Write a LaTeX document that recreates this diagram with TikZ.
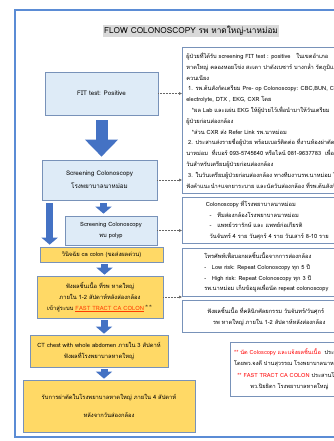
\documentclass[tikz,border=0pt]{standalone}
\usepackage{fontspec}
\setmainfont{Loma}[Script=Thai]
\usepackage{tikz}
\usetikzlibrary{arrows.meta}
\definecolor{framebl}{RGB}{91,140,213}
\definecolor{edgebl}{RGB}{120,146,185}
\definecolor{lightbl}{RGB}{222,235,247}
\definecolor{ylw}{RGB}{255,217,102}
\definecolor{arrbl}{RGB}{68,114,196}
\definecolor{titlegray}{RGB}{217,217,217}
\definecolor{notered}{RGB}{255,0,0}
\definecolor{fastred}{RGB}{255,60,0}

\begin{document}
\begin{tikzpicture}[x=1pt,y=-1pt,
	lbox/.style={draw=edgebl,line width=0.7pt,fill=lightbl,align=center,inner sep=0pt,font=\fontsize{6.3}{13}\selectfont},
	ylbox/.style={lbox,fill=ylw,font=\fontsize{5.8}{11}\selectfont},
	rbox/.style={draw=edgebl,line width=0.7pt,fill=white,anchor=north west,align=left,inner xsep=3pt,inner ysep=0pt,font=\fontsize{5.7}{10.8}\selectfont},
	dotcon/.style={densely dotted,black!60,line width=0.5pt,-{Latex[length=3pt,width=3pt]}},
	bigarr/.style={arrbl,line width=12pt,-{Triangle[length=17pt,width=32pt]}},
	smallarr/.style={arrbl,line width=7pt,-{Triangle[length=7pt,width=16pt]}}]
				\useasboundingbox (0,0) rectangle (333,441);
				\draw[framebl,line width=1.5pt] (15,10) rectangle (360,437);
				\node[fill=titlegray,inner sep=1.5pt,font=\fontsize{8.3}{10}\selectfont] (title) at (191,31) {FLOW COLONOSCOPY รพ หาดใหญ่-นาหม่อม};

				\node[lbox,minimum width=113pt,minimum height=43pt] (fit) at (101.5,93.5) {FIT test: Positive};
				\node[lbox,minimum width=115pt,minimum height=40pt] (scr) at (99.5,180) {Screening Colonoscopy\\โรงพยาบาลนาหม่อม};
				\node[lbox,minimum width=92pt,minimum height=29pt,font=\fontsize{5.8}{11}\selectfont] (polyp) at (111,230.5) {Screening Colonoscopy\\พบ polyp};
				\node[ylbox,minimum width=123pt,minimum height=15pt] (diag) at (101.5,254.5) {วินิจฉัย ca colon (ขอส่งผลด่วน)};
				\node[ylbox,minimum width=126pt,minimum height=42pt] (patho) at (100,297) {ฟังผลชิ้นเนื้อ ที่รพ หาดใหญ่\\ภายใน 1-2 สัปดาห์หลังส่องกล้อง\\เข้าสู่ระบบ {\color{fastred}\underline{FAST TRACT CA COLON}}\,$^{\ast\ast}$};
				\node[ylbox,minimum width=138pt,minimum height=32pt] (ct) at (99,351) {CT chest with whole abdomen ภายใน 3 สัปดาห์\\ฟังผลที่โรงพยาบาลหาดใหญ่};
				\node[ylbox,minimum width=172pt,minimum height=52pt] (op) at (109,406) {รับการผ่าตัดในโรงพยาบาลหาดใหญ่ ภายใน 4 สัปดาห์\\[7pt]หลังจากวันส่องกล้อง};

				\node[rbox,minimum width=168pt,minimum height=146pt] (prep) at (182,47) {ผู้ป่วยที่ได้รับ screening FIT test : positive\quad ในเขตอำเภอ\\
หาดใหญ่ คลองหอยโข่ง สะเดา ปาดังเบซาร์ บางกล่ำ รัตภูมิและ\\
ควนเนียง\\
\ 1. รพ.ต้นสังกัดเตรียม Pre- op Colonoscopy: CBC,BUN, Cr,\\
electrolyte, DTX , EKG, CXR โดย\\
\quad *ผล Lab และแผ่น EKG ให้ผู้ป่วยไว้เพื่อนำมาให้วันเตรียม\\
ผู้ป่วยก่อนส่องกล้อง\\
\quad *ส่วน CXR ส่ง Refer Link รพ.นาหม่อม\\
\ 2. ประสานส่งรายชื่อผู้ป่วย พร้อมเบอร์ติดต่อ ที่งานห้องผ่าตัด รพ.\\
นาหม่อม\ \ ที่เบอร์ 093-5745640 หรือไลน์ 081-9637783\ \ เพื่อนัด\\
วันสำหรับเตรียมผู้ป่วยก่อนส่องกล้อง\\
\ 3. ในวันเตรียมผู้ป่วยก่อนส่องกล้อง ทางทีมงานรพ.นาหม่อม ไปให้\\
ฟังคำแนะนำ+แจกยาระบาย และนัดวันส่องกล้อง ที่รพ.ต้นสังกัด};
				\node[rbox,minimum width=168pt,minimum height=46pt] (team) at (182,197) {\ Colonoscopy\ ที่โรงพยาบาลนาหม่อม\\
\quad -\quad ทีมส่องกล้องโรงพยาบาลนาหม่อม\\
\quad -\quad แพทย์วรารักษ์ และ แพทย์ก่อเกียรติ\\
\quad วันจันทร์ 4 ราย วันศุกร์ 4 ราย วันเสาร์ 8-10 ราย};
				\node[rbox,minimum width=168pt,minimum height=48pt] (risk) at (182,248) {โทรศัพท์เพื่อบอกผลชิ้นเนื้อจากการส่องกล้อง\\
-\quad Low risk: Repeat Colonoscopy ทุก 5 ปี\\
-\quad High risk: Repeat Colonoscopy ทุก 3 ปี\\
รพ.นาหม่อม เก็บข้อมูลเพื่อนัด repeat colonoscopy};
				\node[rbox,minimum width=168pt,minimum height=32pt,inner xsep=10pt] (clinic) at (182,300) {ฟังผลชิ้นเนื้อ ที่คลินิกศัลยกรรม วันจันทร์/วันศุกร์\\
\quad รพ หาดใหญ่ ภายใน 1-2 สัปดาห์หลังส่องกล้อง};
				\node[rbox,align=center,minimum width=118pt,minimum height=54pt,font=\fontsize{5.6}{11.5}\selectfont] (note) at (230,342) {{\color{notered}** นัด Coloscopy และแจ้งผลชิ้นเนื้อ}\ \ ประสาน\\
โดยพว.จงดี ปานสุวรรณ โรงพยาบาลนาหม่อม\\
{\color{notered}** FAST TRACT CA COLON} ประสานโดย\\
พว.ปิยธิดา โรงพยาบาลหาดใหญ่};

				\draw[bigarr,shorten <=5pt,shorten >=3pt] (fit.south) -- (scr.north -| fit.south);
				\draw[smallarr,shorten <=3pt,shorten >=2pt] ([xshift=4pt]scr.south) -- ([xshift=4pt]scr.south |- polyp.north);
				\draw[smallarr,shorten <=3pt,shorten >=2pt] ([xshift=8pt]scr.south west) -- ([xshift=8pt]scr.south west |- diag.north);
				\draw[smallarr,shorten <=2pt,shorten >=1pt] ([xshift=3pt]diag.south) -- ([xshift=3pt]diag.south |- patho.north);
				\draw[smallarr,shorten <=2pt,shorten >=1pt] ([xshift=5pt]ct.north |- patho.south) -- ([xshift=5pt]ct.north);
				\draw[smallarr,shorten <=2pt,shorten >=1pt] ([xshift=5pt]ct.south) -- ([xshift=5pt]ct.south |- op.north);

				\draw[dotcon] (fit.east) -- (fit.east -| prep.west);
				\draw[dotcon] (scr.east) -- (scr.east -| team.west);
				\draw[dotcon] (polyp.east) -- (polyp.east -| risk.west);
				\draw[dotcon] (patho.east) -- (patho.east -| clinic.west);
			\end{tikzpicture}
\end{document}
